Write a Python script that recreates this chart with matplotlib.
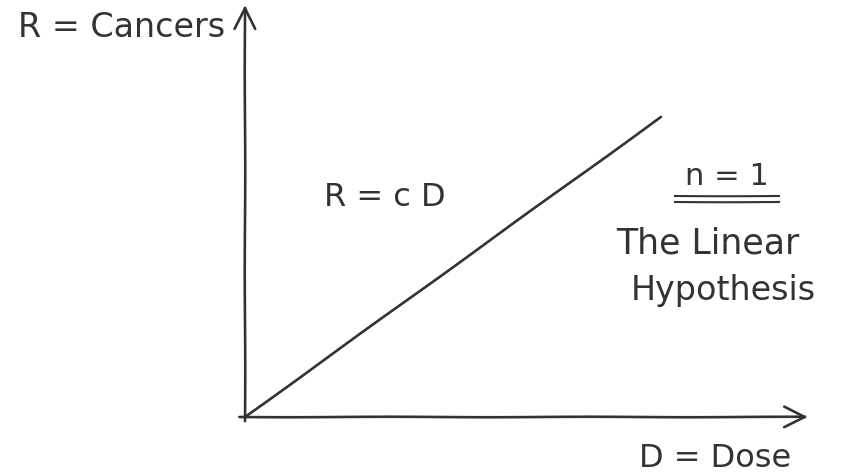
"""Sketch of the linear no-threshold dose-response hypothesis (n = 1)."""

import matplotlib

matplotlib.use("Agg")
import matplotlib.pyplot as plt
from matplotlib.lines import Line2D

# dose-response relation R = c * D^n with n = 1
dose = [0.0, 1.0]
c = 1.0
n = 1
response = [c * d**n for d in dose]

x_label = "D = Dose"
y_label = "R = Cancers"
formula_label = "R = c D"
exponent_label = "n = 1"
caption_lines = ["The Linear", "Hypothesis"]

INK = "#333333"
W, H = 844, 476

plt.rcParams["font.family"] = ["DejaVu Sans"]
plt.rcParams["path.sketch"] = (0.25, 200, 1)

fig = plt.figure(figsize=(W / 100, H / 100), dpi=100)
fig.patch.set_facecolor("white")


def fx(px):
    return px / W


def fy(py):
    return 1 - py / H


# axes: origin near (245, 417) px, x arrow to 808, y arrow to 5
ax = fig.add_axes([fx(245), fy(417), fx(808 - 245), (417 - 5) / H])
ax.set_xlim(0, 563 / 416)
ax.set_ylim(0, 412 / 300)
ax.axis("off")

ax.plot(dose, response, color=INK, lw=1.9, solid_capstyle="round")

arrow = dict(arrowstyle="->,head_length=1.5,head_width=0.75", color=INK, lw=1.9,
             shrinkA=0, shrinkB=0)
ax.annotate("", xy=(1, 0), xytext=(-0.01, 0), xycoords="axes fraction", arrowprops=arrow)
ax.annotate("", xy=(0, 1), xytext=(0, -0.01), xycoords="axes fraction", arrowprops=arrow)

text_kw = dict(color=INK, va="baseline")
fig.text(fx(122), fy(37), y_label, ha="center", fontsize=24, **text_kw)
fig.text(fx(385), fy(206), formula_label, ha="center", fontsize=23, **text_kw)
fig.text(fx(727), fy(185), exponent_label, ha="center", fontsize=22, **text_kw)
fig.text(fx(708), fy(253), caption_lines[0], ha="center", fontsize=25, **text_kw)
fig.text(fx(723), fy(300), caption_lines[1], ha="center", fontsize=24, **text_kw)
fig.text(fx(715), fy(467), x_label, ha="center", fontsize=23, **text_kw)

# double underline under "n = 1"
for py in (196, 202):
    fig.add_artist(Line2D([fx(675), fx(779)], [fy(py), fy(py)], color=INK, lw=1.5))

fig.savefig("out.png", dpi=100, facecolor="white")
